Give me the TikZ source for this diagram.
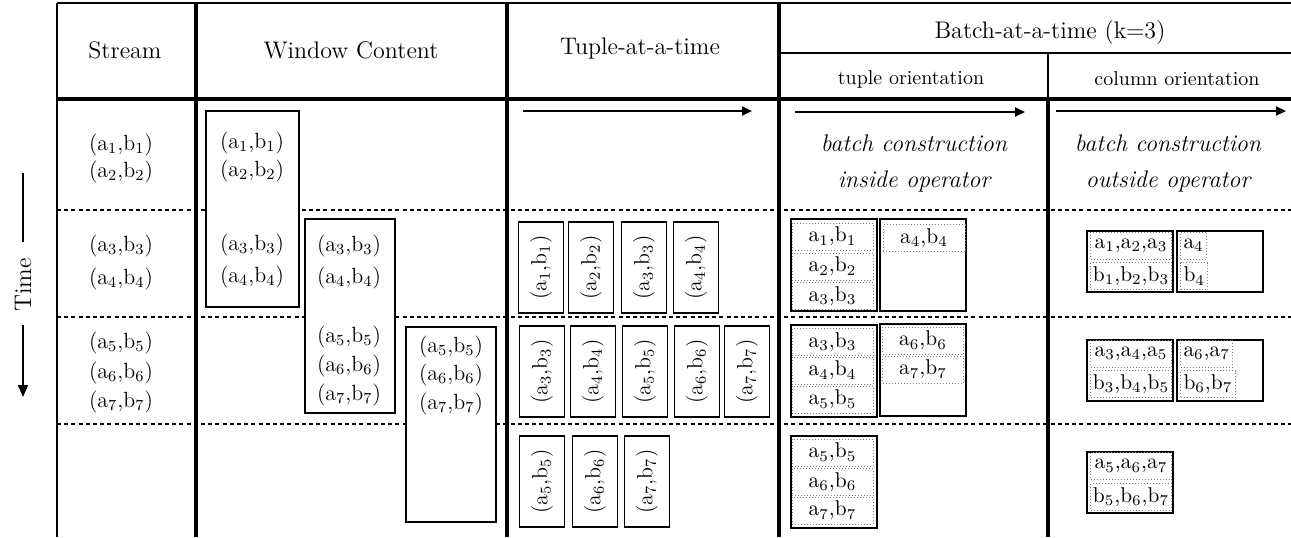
\documentclass[tikz,border=0pt]{standalone}
\usetikzlibrary{arrows.meta}
\newcommand{\TPl}[1]{(a\textsubscript{#1},b\textsubscript{#1})}
\newcommand{\ABc}[1]{a\textsubscript{#1},b\textsubscript{#1}}
\newcommand{\Sq}[4]{#1\textsubscript{#2},#1\textsubscript{#3},#1\textsubscript{#4}}
\begin{document}
\begin{tikzpicture}[x=0.5pt,y=-0.5pt,
  every node/.style={font=\fontsize{11}{13}\selectfont, inner sep=0pt},
  hdr/.style={font=\fontsize{12}{14}\selectfont},
  subhdr/.style={font=\fontsize{10}{12}\selectfont},
  itl/.style={font=\fontsize{12}{18}\selectfont\itshape, align=center},
  thickline/.style={line width=1.6pt},
  thinline/.style={line width=0.9pt},
  rowsep/.style={line width=0.9pt, dash pattern=on 2pt off 1.6pt},
  wbox/.style={draw, line width=0.9pt, fill=white},
  tbox/.style={draw, line width=0.9pt, fill=white, rotate=90, minimum width=45.5pt, minimum height=22.5pt},
  bbox/.style={draw, line width=1pt, minimum width=43pt, minimum height=46pt},
  cbox/.style={draw, line width=1pt, minimum width=43pt, minimum height=30.5pt},
  cell/.style={draw=gray, densely dotted, line width=0.5pt, font=\fontsize{10.7}{12}\selectfont, minimum height=13.5pt},
  tcell/.style={cell, minimum width=40.5pt},
  ccell/.style={cell, minimum width=40.5pt},
  bcell/.style={cell, inner xsep=1.5pt, anchor=west},
  arr/.style={line width=0.9pt, -{Triangle[length=5pt,width=4.5pt]}},
]
\useasboundingbox (0,0) rectangle (1291,537);

% row separators
\foreach \y in {210,317,424} \draw[rowsep] (57,\y) -- (1291,\y);

% rules
\draw[thinline] (57,3) -- (1291,3);
\draw[thinline] (57,3) -- (57,537);
\draw[thickline] (196,3) -- (196,537);
\draw[thickline] (507,3) -- (507,537);
\draw[thickline] (779,3) -- (779,537);
\draw[thinline] (779,53) -- (1291,53);
\draw[line width=0.7pt] (1048,53) -- (1048,99);
\draw[thickline] (1048,99) -- (1048,537);
\draw[thickline] (57,99) -- (1291,99);

% headers
\node[hdr] (hs) at (125,50) {Stream};
\node[hdr] (hw) at (351,50) {Window Content};
\node[hdr] (ht) at (640,48) {Tuple-at-a-time};
\node[hdr] (hb) at (1050,33) {Batch-at-a-time (k=3)};
\node[subhdr] (hto) at (911,79) {tuple orientation};
\node[subhdr] (hco) at (1177,79) {column orientation};

% time arrow
\node[hdr, rotate=90] (time) at (23,285) {Time};
\coordinate (t0) at (23,173);
\coordinate (t1) at (23,397);
\draw[thinline] (t0) -- ([yshift=8pt]time.east);
\draw[thinline, -{Triangle[length=6pt,width=5pt]}] ([yshift=-6.5pt]time.west) -- (t1);

% stream
\node (s1) at (121,145) {\TPl{1}};
\node (s2) at (121,172) {\TPl{2}};
\node (s3) at (121,246) {\TPl{3}};
\node (s4) at (121,279) {\TPl{4}};
\node (s5) at (121,343) {\TPl{5}};
\node (s6) at (121,373) {\TPl{6}};
\node (s7) at (121,402) {\TPl{7}};

% window content
\node[wbox, minimum width=46.5pt, minimum height=98pt] (w1) at (252.5,209) {};
\node[wbox, minimum width=45pt, minimum height=97pt] (w2) at (350,316) {};
\node[wbox, minimum width=45pt, minimum height=97.5pt] (w3) at (451,424.5) {};
\node (w11) at (252,143) {\TPl{1}};
\node (w12) at (252,171) {\TPl{2}};
\node (w13) at (252,245) {\TPl{3}};
\node (w14) at (252,277) {\TPl{4}};
\node (w23) at (349,246) {\TPl{3}};
\node (w24) at (349,278) {\TPl{4}};
\node (w25) at (349,337) {\TPl{5}};
\node (w26) at (349,366) {\TPl{6}};
\node (w27) at (349,395) {\TPl{7}};
\node (w35) at (451,347) {\TPl{5}};
\node (w36) at (451,375) {\TPl{6}};
\node (w37) at (451,404) {\TPl{7}};

% tuple-at-a-time
\coordinate (ta0) at (523,111); \coordinate (ta1) at (752,111);
\draw[arr] (ta0) -- (ta1);
\node[tbox] (t21) at (541,267.5) {\TPl{1}};
\node[tbox] (t22) at (591,267.5) {\TPl{2}};
\node[tbox] (t23) at (644,267.5) {\TPl{3}};
\node[tbox] (t24) at (696,267.5) {\TPl{4}};
\node[tbox] (t33) at (542,371.5) {\TPl{3}};
\node[tbox] (t34) at (593,371.5) {\TPl{4}};
\node[tbox] (t35) at (645,371.5) {\TPl{5}};
\node[tbox] (t36) at (697,371.5) {\TPl{6}};
\node[tbox] (t37) at (747,371.5) {\TPl{7}};
\node[tbox] (t45) at (542,481.5) {\TPl{5}};
\node[tbox] (t46) at (595,481.5) {\TPl{6}};
\node[tbox] (t47) at (647,481.5) {\TPl{7}};

% batch: tuple orientation
\coordinate (ba0) at (795,112); \coordinate (ba1) at (1025,112);
\draw[arr] (ba0) -- (ba1);
\node[itl] (bti) at (914,163) {batch construction\\inside operator};
\node[bbox] (bA2) at (834,265) {};
\node[bbox] (bB2) at (923,265) {};
\node[tcell] (x21) at (832.5,236.5) {\ABc{1}};
\node[tcell] (x22) at (832.5,266.5) {\ABc{2}};
\node[tcell] (x23) at (832.5,296) {\ABc{3}};
\node[tcell, minimum width=41pt] (x24) at (924,238) {\ABc{4}};
\node[bbox] (bA3) at (834,371) {};
\node[bbox] (bB3) at (923,370) {};
\node[tcell] (x33) at (832.5,342) {\ABc{3}};
\node[tcell] (x34) at (832.5,370.5) {\ABc{4}};
\node[tcell] (x35) at (832.5,399.5) {\ABc{5}};
\node[tcell] (x36) at (923,340.5) {\ABc{6}};
\node[tcell] (x37) at (923,369.5) {\ABc{7}};
\node[bbox] (bA4) at (834,481.5) {};
\node[tcell] (x45) at (832.5,452.5) {\ABc{5}};
\node[tcell] (x46) at (832.5,482) {\ABc{6}};
\node[tcell] (x47) at (832.5,510.5) {\ABc{7}};

% batch: column orientation
\coordinate (ca0) at (1056,111); \coordinate (ca1) at (1286,111);
\draw[arr] (ca0) -- (ca1);
\node[itl] (bco) at (1168,163) {batch construction\\outside operator};
\node[cbox] (cA2) at (1130,261.5) {};
\node[cbox] (cB2) at (1220,261.5) {};
\node[ccell] (y21) at (1131,245.5) {\Sq{a}{1}{2}{3}};
\node[ccell] (y22) at (1131,276) {\Sq{b}{1}{2}{3}};
\node[bcell] (y23) at (1180,245.5) {a\textsubscript{4}};
\node[bcell] (y24) at (1180,276) {b\textsubscript{4}};
\node[cbox] (cA3) at (1130,370) {};
\node[cbox] (cB3) at (1220,370) {};
\node[ccell] (y31) at (1131,353.5) {\Sq{a}{3}{4}{5}};
\node[ccell] (y32) at (1131,384) {\Sq{b}{3}{4}{5}};
\node[bcell] (y33) at (1180,353.5) {a\textsubscript{6},a\textsubscript{7}};
\node[bcell] (y34) at (1180,384) {b\textsubscript{6},b\textsubscript{7}};
\node[cbox] (cA4) at (1130,482.5) {};
\node[ccell] (y41) at (1131,466) {\Sq{a}{5}{6}{7}};
\node[ccell] (y42) at (1131,497) {\Sq{b}{5}{6}{7}};
\end{tikzpicture}
\end{document}
